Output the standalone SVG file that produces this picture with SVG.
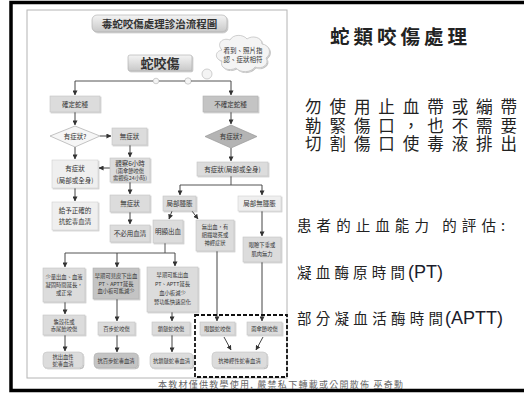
<svg xmlns="http://www.w3.org/2000/svg" width="524" height="394" viewBox="0 0 524 394">
<defs>
<marker id="ah" viewBox="0 0 6 6" refX="5.5" refY="3" markerWidth="5" markerHeight="5" orient="auto" markerUnits="userSpaceOnUse">
<path d="M0,0 L6,3 L0,6 z" fill="#333"/>
</marker>
<linearGradient id="tg" x1="0" y1="0" x2="0" y2="1">
<stop offset="0" stop-color="#f4f4f4"/><stop offset="1" stop-color="#c8c8c8"/>
</linearGradient>
<filter id="sh" x="-10%" y="-10%" width="130%" height="140%">
<feDropShadow dx="1" dy="1" stdDeviation="0.6" flood-color="#000" flood-opacity="0.25"/>
</filter>
</defs>
<style>
.cjk{font-family:"Noto Sans CJK TC","Noto Sans CJK SC",sans-serif;}
.lat{font-family:"Liberation Sans",Arial,sans-serif;}
.bx{fill:#dcdcdc;stroke:#c4c4c4;stroke-width:0.6;filter:url(#sh);}
.lt{fill:#efefef;stroke:#cfcfcf;stroke-width:0.6;filter:url(#sh);}
.dk{fill:#c4c4c4;stroke:#b0b0b0;stroke-width:0.6;filter:url(#sh);}
.t{font-family:"Noto Sans CJK TC",sans-serif;font-size:6.5px;fill:#333;text-anchor:middle;}
.s{font-family:"Noto Sans CJK TC",sans-serif;font-size:5.3px;fill:#333;text-anchor:middle;}
.ln{fill:none;stroke:#555;stroke-width:1;}
.ar{fill:none;stroke:#444;stroke-width:1;marker-end:url(#ah);}
.rt{font-family:"Noto Sans CJK TC",sans-serif;fill:#222;}
</style>
<rect width="524" height="394" fill="#fff"/>
<rect x="11" y="2.5" width="620" height="388" fill="none" stroke="#000" stroke-width="3.5"/>
<rect x="27" y="10" width="260" height="368" fill="#fff" stroke="#b4b4b4" stroke-width="1"/>

<g id="title"><rect x="92" y="15" width="135" height="17" rx="5" fill="url(#tg)" stroke="#aaa" stroke-width="0.6" filter="url(#sh)"/>
<text x="159.5" y="27.5" class="cjk" font-size="10.5" font-weight="bold" text-anchor="middle" fill="#333">毒蛇咬傷處理診治流程圖</text></g>

<g id="bite"><rect x="128" y="55" width="64" height="16" rx="2" fill="url(#tg)" stroke="#aaa" stroke-width="0.6" filter="url(#sh)"/>
<text x="160" y="68" class="cjk" font-size="13" font-weight="bold" text-anchor="middle" fill="#333">蛇咬傷</text></g>

<g id="cloud">
<path d="M222,50 C216,44 222,37 230,40 C233,34 243,34 247,39 C252,35 262,37 262,44 C270,45 272,54 266,58 C270,64 262,70 255,67 C251,73 240,73 236,68 C229,72 219,68 222,61 C214,59 215,51 222,50 z" fill="#f4f4f4" stroke="#bbb" stroke-width="0.7" filter="url(#sh)"/>
<text x="243" y="53" class="t" font-size="6">看到、照片指</text>
<text x="243" y="62" class="t" font-size="6">認、症狀相符</text>
<circle cx="207" cy="74" r="5" fill="#f4f4f4" stroke="#bbb" stroke-width="0.7"/>
<circle cx="188" cy="81" r="3.2" fill="#f4f4f4" stroke="#bbb" stroke-width="0.7"/>
<circle cx="156" cy="81" r="2.8" fill="#f4f4f4" stroke="#bbb" stroke-width="0.7"/>
</g>

<g id="connectors">
<path class="ln" d="M75,81 H153 M159,81 H185 M191,81 H231"/>
<path class="ar" d="M75,81 V95"/>
<path class="ar" d="M231,81 V95"/>
<path class="ar" d="M75,112 V125"/>
<path class="ar" d="M100,136 H111"/>
<path class="ar" d="M130,145 V157"/>
<path class="ar" d="M110,168 H99"/>
<path class="ar" d="M75,147 V159"/>
<path class="ar" d="M75,188 V201"/>
<path class="ar" d="M130,182 V194"/>
<path class="ar" d="M130,212 V224"/>
<path class="ar" d="M231,112 V124"/>
<path class="ar" d="M231,148 V161"/>
<path class="ln" d="M231,176 V185 M180,185 H262"/>
<path class="ar" d="M180,185 V195"/>
<path class="ar" d="M262,185 V195"/>
<path class="ar" d="M172,211 L169,219"/>
<path class="ar" d="M192,211 L198,219"/>
<path class="ar" d="M262,211 V236"/>
<path class="ar" d="M217,251 V321"/>
<path class="ar" d="M262,262 V321"/>
<path class="ln" d="M165,243 V253 M65,253 H175"/>
<path class="ar" d="M65,253 V267"/>
<path class="ar" d="M117,253 V267"/>
<path class="ar" d="M175,253 V266"/>
<path class="ar" d="M65,302 V314"/>
<path class="ar" d="M117,299 V321"/>
<path class="ar" d="M172,312 V321"/>
<path class="ar" d="M65,335 V351"/>
<path class="ar" d="M117,335 V352"/>
<path class="ar" d="M172,335 V352"/>
<path class="ar" d="M224,337 L231,350"/>
<path class="ar" d="M263,337 L256,350"/>
</g>

<g id="known"><rect class="bx" x="50" y="96" width="50" height="16"/><text class="t" x="75" y="107">確定蛇種</text></g>
<g id="unknown"><rect class="dk" x="203" y="96" width="55" height="16"/><text class="t" x="230.5" y="107">不確定蛇種</text></g>

<g id="symL"><polygon points="75,126 100,136 75,147 50,136" fill="#f6f6f6" stroke="#aaa" stroke-width="0.7"/><text class="t" x="75" y="138.5">有症狀?</text></g>
<g id="noSym1"><rect class="bx" x="112" y="128" width="35" height="17"/><text class="t" x="129.5" y="139">無症狀</text></g>
<g id="observe"><rect class="bx" x="110" y="158" width="40" height="24"/>
<text class="t" x="130" y="165.5" font-size="6">觀察6小時</text><text class="s" x="130" y="173" font-size="4.2">(雨傘節咬傷</text><text class="s" x="130" y="179.6" font-size="4.2">需觀察24小時)</text></g>
<g id="symYesL"><rect class="lt" x="52" y="160" width="46" height="28"/><text class="t" x="75" y="171">有症狀</text><text class="t" x="75" y="183">(局部或全身)</text></g>
<g id="giveAV"><rect class="lt" x="52" y="202" width="46" height="28"/><text class="t" x="75" y="213">給予正確的</text><text class="t" x="75" y="224">抗蛇毒血清</text></g>
<g id="noSym2"><rect class="bx" x="110" y="195" width="40" height="17"/><text class="t" x="130" y="206">無症狀</text></g>
<g id="noAV"><rect class="bx" x="110" y="225" width="40" height="17"/><text class="t" x="130" y="236">不必用血清</text></g>

<g id="symR"><polygon points="231,125 257,136.5 231,148 205,136.5" fill="#b4b4b4" stroke="#999" stroke-width="0.7"/><text class="t" x="231" y="139">有症狀?</text></g>
<g id="symYesR"><rect class="bx" x="197" y="162" width="71" height="14"/><text class="t" x="232.5" y="171.5">有症狀(局部或全身)</text></g>
<g id="swell"><rect class="bx" x="163" y="196" width="33" height="15"/><text class="t" x="179.5" y="206">局部腫脹</text></g>
<g id="noSwell"><rect class="lt" x="238" y="196" width="43" height="15"/><text class="t" x="259.5" y="206">局部無腫脹</text></g>
<g id="bleed"><rect class="bx" x="153" y="220" width="30" height="23"/><text class="t" x="168" y="234">明顯出血</text></g>
<g id="noBleed"><rect class="bx" x="196" y="220" width="38" height="31"/><text class="s" x="215" y="229">無出血，有</text><text class="s" x="215" y="237">組織壞死或</text><text class="s" x="215" y="245">神經症狀</text></g>
<g id="weak"><rect class="bx" x="243" y="237" width="38" height="25"/><text class="s" x="262" y="247">眼瞼下垂或</text><text class="s" x="262" y="256">肌肉無力</text></g>

<g id="boxA"><rect class="bx" x="43" y="268" width="42" height="34"/><text class="s" x="64" y="279">少量出血、血液</text><text class="s" x="64" y="287">凝固時間延長，</text><text class="s" x="64" y="295">或正常</text></g>
<g id="boxB"><rect class="dk" x="93" y="268" width="46" height="31"/><text class="s" x="116" y="278">早期可見皮下出血</text><text class="s" x="116" y="285.5">PT、APTT延長</text><text class="s" x="116" y="293">血小板可能減少</text></g>
<g id="boxC"><rect class="bx" x="147" y="267" width="51" height="45"/><text class="s" x="172.5" y="277">早期可能出血</text><text class="s" x="172.5" y="286">PT、APTT延長</text><text class="s" x="172.5" y="295">血小板減少</text><text class="s" x="172.5" y="304">腎功能快速惡化</text></g>

<g id="snakeA"><rect class="bx" x="43" y="315" width="42" height="20"/><text class="s" x="64" y="323.5">龜殼花或</text><text class="s" x="64" y="331">赤尾鮐咬傷</text></g>
<g id="snakeB"><rect class="bx" x="98" y="322" width="37" height="13"/><text class="s" x="116.5" y="330.5">百步蛇咬傷</text></g>
<g id="snakeC"><rect class="bx" x="152" y="322" width="38" height="13"/><text class="s" x="171" y="330.5">鎖鏈蛇咬傷</text></g>

<g id="avA"><rect class="bx" x="43" y="352" width="40" height="16" rx="4"/><text class="s" x="63" y="359">抗出血性</text><text class="s" x="63" y="366">蛇毒血清</text></g>
<g id="avB"><rect class="dk" x="94" y="353" width="44" height="15" rx="4"/><text class="s" x="116" y="362.5">抗百步蛇毒血清</text></g>
<g id="avC"><rect class="bx" x="150" y="353" width="43" height="15" rx="4"/><text class="s" x="171.5" y="362.5">抗鎖鏈蛇毒血清</text></g>

<g id="neuroGroup"><rect x="195" y="315" width="92" height="62" fill="none" stroke="#111" stroke-width="1.8" stroke-dasharray="4,2"/></g>
<g id="cobra"><rect class="bx" x="200" y="322" width="35" height="13"/><text class="s" x="217.5" y="330.5">眼鏡蛇咬傷</text></g>
<g id="krait"><rect class="bx" x="247" y="322" width="35" height="13"/><text class="s" x="264.5" y="330.5">雨傘節咬傷</text></g>
<g id="avN"><rect class="bx" x="212" y="352" width="55" height="16" rx="4"/><text class="s" x="239.5" y="362.5">抗神經性蛇毒血清</text></g>

<g id="rightText">
<text x="330" y="44" class="rt" font-size="19.5" font-weight="bold" textLength="137" lengthAdjust="spacing">蛇類咬傷處理</text>
<text x="305" y="113" class="rt" font-size="16.5" textLength="212" lengthAdjust="spacing">勿使用止血帶或繃帶</text>
<text x="305" y="131.5" class="rt" font-size="16.5" textLength="212" lengthAdjust="spacing">勒緊傷口，也不需要</text>
<text x="305" y="150" class="rt" font-size="16.5" textLength="212" lengthAdjust="spacing">切割傷口使毒液排出</text>
<text x="297" y="231" class="rt" font-size="14.5" textLength="208" lengthAdjust="spacing">患者的止血能力 的評估:</text>
<text x="297" y="278" class="rt" font-size="14.5" textLength="108" lengthAdjust="spacing">凝血酶原時間</text>
<text x="408" y="278" class="lat" font-size="18" fill="#1c1c2c">(PT)</text>
<text x="297" y="324" class="rt" font-size="14.5" textLength="146" lengthAdjust="spacing">部分凝血活酶時間</text>
<text x="445" y="324" class="lat" font-size="18" fill="#1c1c2c">(APTT)</text>
</g>
<text x="158" y="387.5" class="cjk" font-size="9" fill="#666" textLength="245" lengthAdjust="spacing">本教材僅供教學使用, 嚴禁私下轉載或公開散佈  巫奇勳</text>
</svg>
